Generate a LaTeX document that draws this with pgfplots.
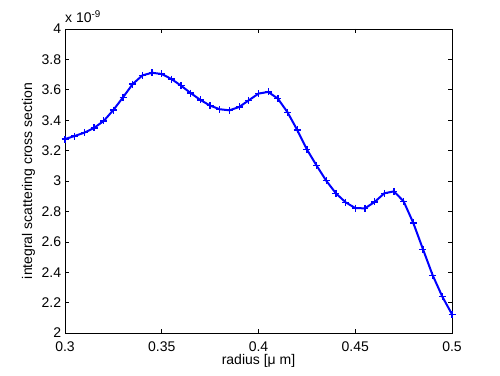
\documentclass[border=0pt]{standalone}
\usepackage{fontspec}
\setmainfont{Liberation Sans}
\usepackage{pgfplots}
\pgfplotsset{compat=1.18}
\begin{document}
\fontsize{14bp}{16bp}\selectfont
\begin{tikzpicture}[x=1bp,y=1bp]
\path[use as bounding box] (0,0) rectangle (500,375);
\begin{axis}[
  at={(65bp,42bp)}, anchor=south west,
  scale only axis, width=387bp, height=304bp,
  xmin=0.3, xmax=0.5, ymin=2, ymax=4,
  xtick={0.3,0.35,0.4,0.45,0.5},
  ytick={2,2.2,2.4,2.6,2.8,3,3.2,3.4,3.6,3.8,4},
  tick align=inside, major tick length=4bp,
  axis line style={black, line width=0.6bp},
  every tick/.style={black, line width=0.6bp},
  /pgf/number format/assume math mode=true,
  ticklabel style={font=\fontsize{14bp}{16bp}\selectfont},
  yticklabel style={xshift=1bp},
  xticklabel style={yshift=-4bp},
  label style={font=\fontsize{14bp}{16bp}\selectfont},
  xlabel={radius [μ m]},
  ylabel={integral scattering cross section},
  xlabel style={at={(axis description cs:0.5,-0.105)}, anchor=base},
  ylabel style={at={(axis description cs:-0.094,0.5)}, anchor=center},
  clip=false,
]
\addplot[color=blue, line width=2bp, mark=+, mark size=3.5bp, mark options={line width=1.3bp}] coordinates {
(0.300,3.276) (0.305,3.296) (0.310,3.318) (0.315,3.349) (0.320,3.395)
(0.325,3.467) (0.330,3.551) (0.335,3.638) (0.340,3.695) (0.345,3.712)
(0.350,3.704) (0.355,3.671) (0.360,3.627) (0.365,3.578) (0.370,3.533)
(0.375,3.496) (0.380,3.472) (0.385,3.465) (0.390,3.487) (0.395,3.531)
(0.400,3.575) (0.405,3.586) (0.410,3.542) (0.415,3.452) (0.420,3.336)
(0.425,3.208) (0.430,3.102) (0.435,3.002) (0.440,2.919) (0.445,2.860)
(0.450,2.822) (0.455,2.820) (0.460,2.862) (0.465,2.919) (0.470,2.932)
(0.475,2.866) (0.480,2.724) (0.485,2.551) (0.490,2.380) (0.495,2.239)
(0.500,2.123)
};
\node[anchor=base west, inner sep=0pt, font=\fontsize{14bp}{16bp}\selectfont] at (rel axis cs:0,1) [yshift=6bp] {x 10\textsuperscript{-9}};
\end{axis}
\end{tikzpicture}
\end{document}
